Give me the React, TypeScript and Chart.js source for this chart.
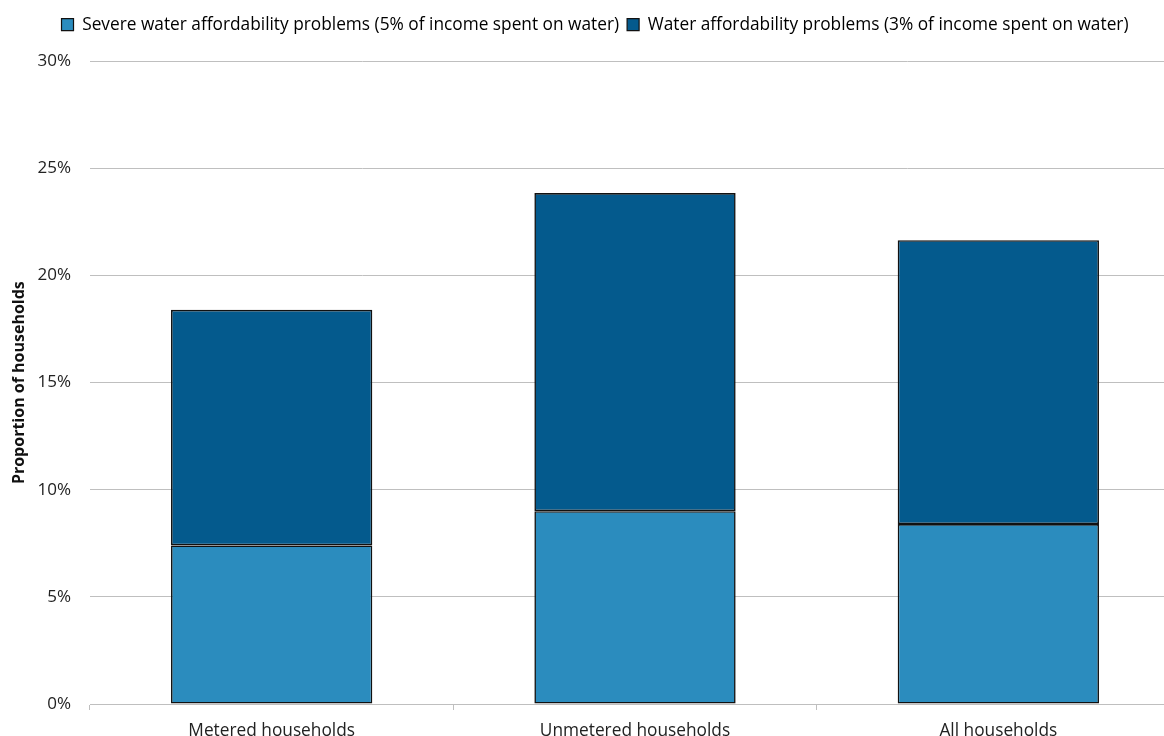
import React, { useEffect, useRef } from "react";
import { Chart, registerables } from "chart.js";

Chart.register(...registerables);

const categories = ["Metered households", "Unmetered households", "All households"];
const severeShare = [7.4, 9.0, 8.4];
const moderateShare = [11.0, 14.85, 13.25];
const seriesNames = [
  "Severe water affordability problems (5% of income spent on water)",
  "Water affordability problems (3% of income spent on water)",
];
const yTicks = [0, 5, 10, 15, 20, 25, 30];

const FONT = "'Open Sans', 'Noto Sans', sans-serif";

// Adds breathing room between the legend row and the plot area.
const legendGap = {
  id: "legendGap",
  beforeInit(chart: any) {
    const legend = chart.legend;
    if (!legend) return;
    const fit = legend.fit;
    legend.fit = function () {
      fit.call(this);
      this.height += 18;
    };
  },
};

export default function App() {
  const ref = useRef<HTMLCanvasElement | null>(null);

  useEffect(() => {
    if (!ref.current) return;
    const chart = new Chart(ref.current, {
      type: "bar",
      data: {
        labels: categories,
        datasets: [
          {
            label: seriesNames[0],
            data: severeShare,
            backgroundColor: "#2B8CBE",
            borderColor: "#111111",
            borderWidth: 1.6,
            borderSkipped: false,
            barPercentage: 0.554,
            categoryPercentage: 1,
          },
          {
            label: seriesNames[1],
            data: moderateShare,
            backgroundColor: "#045A8D",
            borderColor: "#111111",
            borderWidth: 1.6,
            borderSkipped: false,
            barPercentage: 0.554,
            categoryPercentage: 1,
          },
        ],
      },
      plugins: [legendGap],
      options: {
        responsive: false,
        animation: false,
        layout: { padding: { left: 10, right: 0, top: 8, bottom: 0 } },
        plugins: {
          tooltip: { enabled: false },
          legend: {
            position: "top",
            align: "center",
            labels: {
              boxWidth: 12,
              boxHeight: 12,
              padding: 8,
              color: "#222222",
              font: { family: FONT, size: 17.3 },
              generateLabels: (c) =>
                c.data.datasets.map((ds, i) => ({
                  text: ds.label as string,
                  fillStyle: ds.backgroundColor as string,
                  strokeStyle: "#111111",
                  lineWidth: 1.2,
                  hidden: false,
                  datasetIndex: i,
                })),
            },
          },
        },
        scales: {
          x: {
            stacked: true,
            grid: {
              offset: true,
              drawOnChartArea: false,
              drawTicks: true,
              tickLength: 6,
              color: "#BFBFBF",
            },
            border: { display: true, color: "#BFBFBF", width: 1 },
            ticks: {
              color: "#222222",
              font: { family: FONT, size: 17.3 },
              padding: 11,
              maxRotation: 0,
            },
            afterFit: (s: any) => {
              s.height = 32;
            },
          },
          y: {
            stacked: true,
            min: 0,
            max: 30,
            afterBuildTicks: (s: any) => {
              s.ticks = yTicks.map((v) => ({ value: v }));
            },
            grid: { color: "#BFBFBF", drawTicks: false, lineWidth: 1 },
            border: { display: false },
            ticks: {
              color: "#222222",
              font: { family: FONT, size: 17 },
              padding: 19,
              callback: (v) => `${v}%`,
            },
            title: {
              display: true,
              text: "Proportion of households",
              color: "#111111",
              font: { family: FONT, size: 16, weight: "bold" },
              padding: { top: 0, bottom: 4 },
            },
            afterFit: (s: any) => {
              s.width = 80;
            },
          },
        },
      },
    });
    return () => chart.destroy();
  }, []);

  return (
    <div
      style={{
        position: "absolute",
        left: 0,
        top: 0,
        width: 1164,
        height: 736,
        overflow: "hidden",
        background: "#ffffff",
      }}
    >
      <canvas ref={ref} width={1180} height={736} style={{ display: "block" }} />
    </div>
  );
}
